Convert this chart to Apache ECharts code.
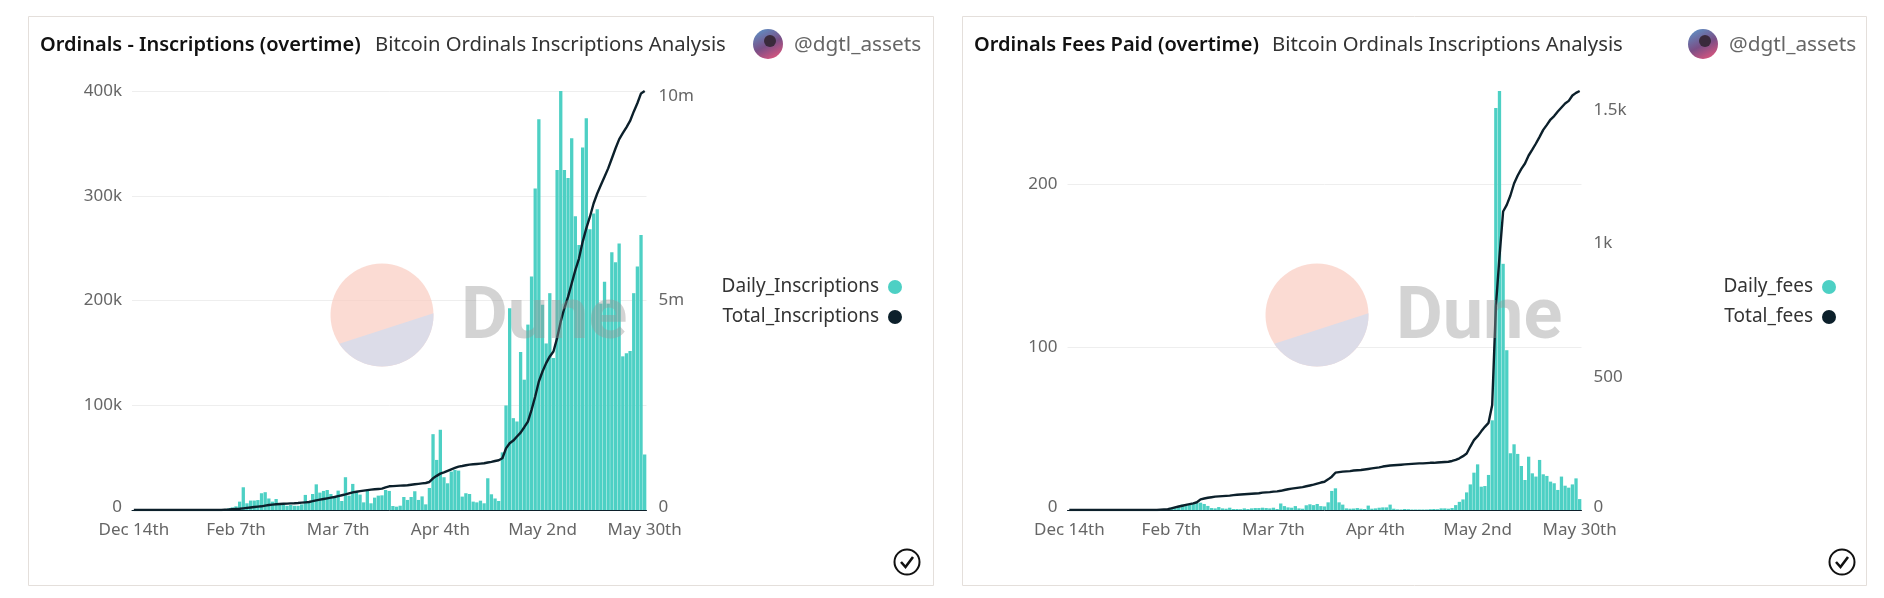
<!DOCTYPE html>
<html>
<head>
<meta charset="utf-8">
<title>Bitcoin Ordinals Inscriptions Analysis</title>
<script src="https://cdn.jsdelivr.net/npm/echarts@6/dist/echarts.min.js"></script>
<style>
    html, body { margin: 0; padding: 0; background: #fff; }
    #chart { width: 1884px; height: 598px; }
</style>
</head>
<body>
<div id="chart"></div>
<script>
var dates = [
    "Dec 14th",
    "Jan 11th", "Jan 12th", "Jan 13th", "Jan 14th", "Jan 15th", "Jan 16th", "Jan 17th", "Jan 18th", "Jan 19th", "Jan 20th", "Jan 21st",
    "Jan 22nd", "Jan 23rd", "Jan 24th", "Jan 25th", "Jan 26th", "Jan 27th", "Jan 28th", "Jan 29th", "Jan 30th", "Jan 31st",
    "Feb 1st", "Feb 2nd", "Feb 3rd", "Feb 4th", "Feb 5th", "Feb 6th", "Feb 7th", "Feb 8th", "Feb 9th", "Feb 10th", "Feb 11th", "Feb 12th",
    "Feb 13th", "Feb 14th", "Feb 15th", "Feb 16th", "Feb 17th", "Feb 18th", "Feb 19th", "Feb 20th", "Feb 21st", "Feb 22nd", "Feb 23rd",
    "Feb 24th", "Feb 25th", "Feb 26th", "Feb 27th", "Feb 28th",
    "Mar 1st", "Mar 2nd", "Mar 3rd", "Mar 4th", "Mar 5th", "Mar 6th", "Mar 7th", "Mar 8th", "Mar 9th", "Mar 10th", "Mar 11th", "Mar 12th",
    "Mar 13th", "Mar 14th", "Mar 15th", "Mar 16th", "Mar 17th", "Mar 18th", "Mar 19th", "Mar 20th", "Mar 21st", "Mar 22nd", "Mar 23rd",
    "Mar 24th", "Mar 25th", "Mar 26th", "Mar 27th", "Mar 28th", "Mar 29th", "Mar 30th", "Mar 31st",
    "Apr 1st", "Apr 2nd", "Apr 3rd", "Apr 4th", "Apr 5th", "Apr 6th", "Apr 7th", "Apr 8th", "Apr 9th", "Apr 10th", "Apr 11th", "Apr 12th",
    "Apr 13th", "Apr 14th", "Apr 15th", "Apr 16th", "Apr 17th", "Apr 18th", "Apr 19th", "Apr 20th", "Apr 21st", "Apr 22nd", "Apr 23rd",
    "Apr 24th", "Apr 25th", "Apr 26th", "Apr 27th", "Apr 28th", "Apr 29th", "Apr 30th",
    "May 1st", "May 2nd", "May 3rd", "May 4th", "May 5th", "May 6th", "May 7th", "May 8th", "May 9th", "May 10th", "May 11th", "May 12th",
    "May 13th", "May 14th", "May 15th", "May 16th", "May 17th", "May 18th", "May 19th", "May 20th", "May 21st", "May 22nd", "May 23rd",
    "May 24th", "May 25th", "May 26th", "May 27th", "May 28th", "May 29th", "May 30th"
];

var dailyInscriptions = [
    0, 0, 0, 0, 0, 0, 0, 0, 0, 0, 0, 0, 0, 0, 0, 0, 0, 0, 0, 0, 0, 0, 0, 0, 0,
    1000, 1600, 2500, 3500, 8000, 21700, 6400, 9000, 9000, 9500, 16000, 17000, 11000, 8000, 10500,
    5500, 4800, 4000, 4800, 4000, 4000, 5400, 14400, 7000, 15300, 24500, 16600, 18200, 19100, 15300,
    12800, 18500, 8600, 31300, 13700, 24900, 17500, 14700, 7300, 18500, 6400, 11800, 13700, 14000, 19100,
    18200, 3800, 3200, 4100, 12400, 9600, 12400, 17900, 9600, 13000, 5400, 21000, 72400, 47800, 76600,
    31300, 25500, 36700, 38300, 37600, 12800, 16000, 15300, 8000, 7300, 8900, 6400, 30300, 15000, 11000,
    8600, 55000, 99800, 192600, 87700, 84500, 150900, 124400, 177000, 223000, 307000, 373000, 196000, 159000, 207000,
    145000, 324500, 400000, 324500, 317000, 355000, 280500, 253000, 346000, 374000, 268000, 283000, 287000, 197000, 218000,
    197000, 246000, 236500, 254500, 146700, 149600, 151800, 207000, 232500, 262500, 53000
];

var totalInscriptions = [
    0, 0, 0, 0, 0, 0, 0, 0, 0, 0, 0, 0, 0, 0, 0, 0, 0, 0, 0, 0, 0, 0, 0, 0, 0,
    8000, 12000, 18000, 24000, 30000, 40000, 50000, 60000, 70000, 80000, 88000, 104000, 120000, 128000, 136000,
    143000, 148000, 153000, 158000, 162000, 167000, 175000, 183000, 190000, 210000, 231000, 247000, 263000, 279000, 295000,
    310000, 332000, 353000, 374000, 398000, 422000, 436000, 449000, 462000, 475000, 486000, 494000, 502000, 510000, 540000,
    566000, 571000, 576000, 581000, 586000, 590000, 602000, 613000, 624000, 635000, 645000, 669000, 757000, 815000, 868000,
    900000, 936000, 972000, 1005000, 1036000, 1051000, 1067000, 1083000, 1091000, 1099000, 1107000, 1115000, 1133000, 1150000, 1170000,
    1187000, 1235000, 1470000, 1593000, 1657000, 1753000, 1848000, 1976000, 2111000, 2390000, 2709000, 3067000, 3306000, 3505000, 3665000,
    3784000, 4103000, 4501000, 4820000, 5086000, 5406000, 5724000, 6000000, 6400000, 6720000, 7000000, 7315000, 7554000, 7755000, 7955000,
    8153000, 8389000, 8628000, 8845000, 8992000, 9132000, 9285000, 9507000, 9708000, 9943000, 10000000
];

var dailyFees = [
    0, 0, 0, 0, 0, 0, 0, 0, 0, 0, 0, 0, 0, 0, 0, 0, 0, 0, 0, 0, 0, 0, 0, 0, 0,
    0, 0.2, 0.4, 1.6, 1.6, 2.5, 3.3, 3.5, 3.5, 4, 4.2, 4.5, 3.7, 2.5, 1.2,
    1, 1.8, 1, 0.8, 1.4, 0.6, 0.6, 0.5, 1, 0.6, 1, 1.2, 1.2, 1.4, 1.2,
    1, 1.4, 0.6, 4, 2.4, 1.6, 1.4, 2.4, 1, 0.8, 2.9, 3.5, 3, 3.7, 2.4,
    2.2, 4.7, 11.7, 13.3, 4.7, 3.3, 1, 0.8, 0.9, 1.2, 0.8, 0.6, 2.7, 0.8, 1,
    1.4, 1.6, 1.6, 3.3, 0.8, 0.4, 0.3, 0.6, 0.5, 0.3, 0.3, 0.3, 0.3, 0.3, 0.5,
    0.6, 0.5, 1, 1, 0.8, 1.2, 3, 5, 6.5, 10.8, 15.7, 22.9, 28, 14.3, 14.7,
    21.5, 55, 246.6, 257, 151, 98, 34.8, 40.3, 34.4, 27, 18.4, 32.7, 22.5, 20.5, 30.7,
    21.9, 20.9, 17.4, 16.4, 12.3, 20.5, 14.9, 13.7, 15.7, 19.4, 6.7
];

var totalFees = [
    0, 0, 0, 0, 0, 0, 0, 0, 0, 0, 0, 0, 0, 0, 0, 0, 0, 0, 0, 0, 0, 0, 0, 0, 0,
    1, 2, 3, 6, 10, 13, 16, 19, 22, 25, 29, 40, 43, 46, 48,
    50, 51, 52, 53, 54, 56, 57, 58, 59, 60, 61, 62, 63, 65, 66,
    67, 69, 70, 72, 75, 78, 80, 82, 84, 86, 89, 92, 95, 99, 103,
    106, 115, 125, 140, 142, 144, 145, 146, 148, 149, 150, 152, 154, 156, 158,
    160, 163, 165, 167, 168, 169, 170, 171, 172, 173, 174, 175, 175, 176, 177,
    177, 178, 179, 180, 181, 184, 188, 194, 202, 212, 238, 262, 277, 295, 312,
    327, 394, 760, 950, 1120, 1145, 1180, 1225, 1255, 1280, 1300, 1330, 1352, 1375, 1400,
    1426, 1445, 1465, 1478, 1495, 1510, 1525, 1535, 1555, 1565, 1572
];

var fontName = '"Noto Sans", sans-serif';
var barColor = '#4dd0c4';
var lineColor = '#0c202b';
var labelColor = '#666666';

function shortNumber(value) {
    if (value >= 1000000) return value / 1000000 + 'm';
    if (value >= 1000) return value / 1000 + 'k';
    return String(value);
}

// 水印圆的下半部分：弦下面的弓形，ECharts 的 graphic 没有 path，用折线围出来
function chordPoints(cx, cy, r, fromDeg, toDeg) {
    var points = [];
    for (var deg = fromDeg; deg <= toDeg; deg += 4) {
        points.push([cx + r * Math.cos(deg * Math.PI / 180), cy + r * Math.sin(deg * Math.PI / 180)]);
    }
    return points;
}

// 一个面板的底图：卡片边框、头像、水印、右下角的对勾
function panelGraphic(cardLeft, cardWidth, dx) {
    return [
        { type: 'rect', z: -1, shape: { x: cardLeft + 0.5, y: 16.5, width: cardWidth, height: 569 },
            style: { fill: '#fff', stroke: '#e4dfdb', lineWidth: 1 } },
        { type: 'circle', z: 5, shape: { cx: 768 + dx, cy: 44, r: 15 },
            style: { fill: new echarts.graphic.LinearGradient(0.2, 0, 0.7, 1, [
                { offset: 0, color: '#5f8fc4' }, { offset: 0.55, color: '#7a4f86' }, { offset: 1, color: '#d8557e' }
            ]) } },
        { type: 'circle', z: 6, shape: { cx: 770 + dx, cy: 41, r: 6 }, style: { fill: '#3a2a3c' } },
        { type: 'circle', z: 10, shape: { cx: 382 + dx, cy: 315, r: 51.5 }, style: { fill: 'rgba(249,205,194,0.72)' } },
        { type: 'polygon', z: 11, shape: { points: chordPoints(382 + dx, 315, 51.5, -2, 148) },
            style: { fill: '#dcdce8' } },
        { type: 'text', z: 12, x: 461 + dx, y: 284,
            style: { text: 'Dune', font: 'bold 72px Roboto, sans-serif', fill: 'rgba(150,150,150,0.42)' } },
        { type: 'circle', z: 5, shape: { cx: 907 + dx, cy: 562, r: 12.5 },
            style: { fill: 'none', stroke: '#111', lineWidth: 2 } },
        { type: 'polyline', z: 5, shape: { points: [[901 + dx, 562], [905.5 + dx, 567], [913 + dx, 557]] },
            style: { fill: 'none', stroke: '#111', lineWidth: 2.6 } }
    ];
}

function panelTitles(name, titleLeft, subLeft, handleLeft) {
    return [
        { text: name, left: titleLeft, top: 35, padding: 0, textStyle: { fontFamily: fontName, fontSize: 20, fontWeight: 600, color: '#111' } },
        { text: 'Bitcoin Ordinals Inscriptions Analysis', left: subLeft, top: 35, padding: 0, textStyle: { fontFamily: fontName, fontSize: 20.3, fontWeight: 400, color: '#333' } },
        { text: '@dgtl_assets', left: handleLeft, top: 35, padding: 0, textStyle: { fontFamily: fontName, fontSize: 20.8, fontWeight: 400, color: '#666' } }
    ];
}

function panelLegend(names, right) {
    return {
        data: names, orient: 'vertical', align: 'right', right: right, top: 276, padding: 0,
        icon: 'circle', itemWidth: 14, itemHeight: 14, itemGap: 8, selectedMode: false,
        textStyle: { fontFamily: fontName, fontSize: 19, lineHeight: 22, color: '#333', padding: [0, 4, 0, 0] }
    };
}

function xAxisFor(gridIndex) {
    return {
        type: 'category', gridIndex: gridIndex, data: dates, boundaryGap: true,
        axisLine: { show: true, lineStyle: { color: lineColor, width: 1 } },
        axisTick: { show: false },
        axisLabel: { interval: 27, margin: 12, color: labelColor, fontFamily: fontName, fontSize: 17, showMinLabel: true, showMaxLabel: true }
    };
}

function yAxisLeft(gridIndex, max, interval, hideTop) {
    return {
        type: 'value', gridIndex: gridIndex, position: 'left', min: 0, max: max, interval: interval,
        axisLine: { show: false }, axisTick: { show: false },
        splitLine: { show: true, showMaxLine: !hideTop, lineStyle: { color: '#eeeeee', width: 1 } },
        axisLabel: { margin: 10, color: labelColor, fontFamily: fontName, fontSize: 17, formatter: shortNumber,
            showMaxLabel: !hideTop, lineHeight: 5, padding: [3, 0, 0, 0], verticalAlignMinLabel: 'bottom' }
    };
}

function yAxisRight(gridIndex, max, interval, hideTop) {
    return {
        type: 'value', gridIndex: gridIndex, position: 'right', min: 0, max: max, interval: interval,
        axisLine: { show: false }, axisTick: { show: false }, splitLine: { show: false },
        axisLabel: { margin: 12, color: labelColor, fontFamily: fontName, fontSize: 17, formatter: shortNumber,
            showMaxLabel: !hideTop, lineHeight: 5, padding: [3, 0, 0, 0], verticalAlignMinLabel: 'bottom', verticalAlignMaxLabel: 'top' }
    };
}

function barSeries(name, data, xIndex, yIndex) {
    return { name: name, type: 'bar', xAxisIndex: xIndex, yAxisIndex: yIndex, data: data,
        barWidth: 3.3, itemStyle: { color: barColor } };
}

function lineSeries(name, data, xIndex, yIndex) {
    return { name: name, type: 'line', xAxisIndex: xIndex, yAxisIndex: yIndex, data: data, z: 4,
        showSymbol: false, symbol: 'circle', lineStyle: { color: lineColor, width: 2.4 }, itemStyle: { color: lineColor } };
}

var myChart = echarts.init(document.getElementById('chart'));
myChart.setOption({
    animation: false,
    backgroundColor: '#fff',
    color: [barColor, lineColor],
    title: panelTitles('Ordinals - Inscriptions (overtime)', 40, 375, 794)
        .concat(panelTitles('Ordinals Fees Paid (overtime)', 974, 1272, 1729)),
    legend: [
        panelLegend(['Daily_Inscriptions', 'Total_Inscriptions'], 982),
        panelLegend(['Daily_fees', 'Total_fees'], 48)
    ],
    grid: [
        { left: 132, width: 514.5, top: 91, height: 419 },
        { left: 1067.5, width: 514, top: 91, height: 419 }
    ],
    xAxis: [xAxisFor(0), xAxisFor(1)],
    yAxis: [
        yAxisLeft(0, 400000, 100000, false),
        yAxisRight(0, 10000000, 5000000, false),
        yAxisLeft(1, 257, 100, true),
        yAxisRight(1, 1572, 500, true)
    ],
    series: [
        barSeries('Daily_Inscriptions', dailyInscriptions, 0, 0),
        lineSeries('Total_Inscriptions', totalInscriptions, 0, 1),
        barSeries('Daily_fees', dailyFees, 1, 2),
        lineSeries('Total_fees', totalFees, 1, 3)
    ],
    graphic: panelGraphic(28, 905, 0).concat(panelGraphic(962, 904, 935))
});
</script>
</body>
</html>
